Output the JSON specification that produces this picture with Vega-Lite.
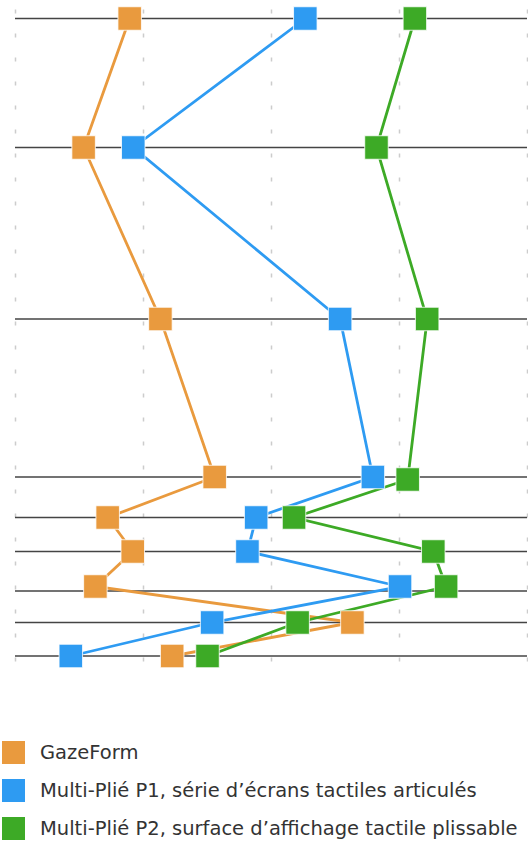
{
  "$schema": "https://vega.github.io/schema/vega-lite/v6.json",
  "autosize": "none",
  "width": 512,
  "height": 658,
  "padding": {"left": 15, "top": 3, "right": 1, "bottom": 180},
  "background": "white",
  "config": {
    "view": {"stroke": null},
    "font": "DejaVu Sans",
    "legend": {
      "labelFont": "DejaVu Sans",
      "labelFontSize": 19.5,
      "labelColor": "#333333",
      "labelLimit": 600,
      "symbolType": "square",
      "symbolSize": 529,
      "symbolStrokeWidth": 0,
      "symbolOpacity": 1,
      "rowPadding": 15,
      "labelOffset": 15
    }
  },
  "datasets": {
    "levels": [
      {"pos": 15.5}, {"pos": 144.5}, {"pos": 316}, {"pos": 474}, {"pos": 514.5},
      {"pos": 548.5}, {"pos": 588}, {"pos": 619.5}, {"pos": 653}
    ],
    "points": [
      {"series": "GazeForm", "row": 1, "x": 22.4, "pos": 15.5},
      {"series": "GazeForm", "row": 2, "x": 13.4, "pos": 144.5},
      {"series": "GazeForm", "row": 3, "x": 28.4, "pos": 316},
      {"series": "GazeForm", "row": 4, "x": 39.0, "pos": 474},
      {"series": "GazeForm", "row": 5, "x": 18.1, "pos": 514.5},
      {"series": "GazeForm", "row": 6, "x": 23.0, "pos": 548.5},
      {"series": "GazeForm", "row": 7, "x": 15.7, "pos": 583.5},
      {"series": "GazeForm", "row": 8, "x": 65.9, "pos": 619.5},
      {"series": "GazeForm", "row": 9, "x": 30.7, "pos": 653},
      {"series": "Multi-Plié P1, série d’écrans tactiles articulés", "row": 1, "x": 56.7, "pos": 15.5},
      {"series": "Multi-Plié P1, série d’écrans tactiles articulés", "row": 2, "x": 23.1, "pos": 144.5},
      {"series": "Multi-Plié P1, série d’écrans tactiles articulés", "row": 3, "x": 63.5, "pos": 316},
      {"series": "Multi-Plié P1, série d’écrans tactiles articulés", "row": 4, "x": 69.9, "pos": 474},
      {"series": "Multi-Plié P1, série d’écrans tactiles articulés", "row": 5, "x": 47.1, "pos": 514.5},
      {"series": "Multi-Plié P1, série d’écrans tactiles articulés", "row": 6, "x": 45.4, "pos": 548.5},
      {"series": "Multi-Plié P1, série d’écrans tactiles articulés", "row": 7, "x": 75.2, "pos": 583.5},
      {"series": "Multi-Plié P1, série d’écrans tactiles articulés", "row": 8, "x": 38.5, "pos": 619.5},
      {"series": "Multi-Plié P1, série d’écrans tactiles articulés", "row": 9, "x": 10.9, "pos": 653},
      {"series": "Multi-Plié P2, surface d’affichage tactile plissable", "row": 1, "x": 78.1, "pos": 15.5},
      {"series": "Multi-Plié P2, surface d’affichage tactile plissable", "row": 2, "x": 70.6, "pos": 144.5},
      {"series": "Multi-Plié P2, surface d’affichage tactile plissable", "row": 3, "x": 80.5, "pos": 316},
      {"series": "Multi-Plié P2, surface d’affichage tactile plissable", "row": 4, "x": 76.7, "pos": 476.5},
      {"series": "Multi-Plié P2, surface d’affichage tactile plissable", "row": 5, "x": 54.5, "pos": 514.5},
      {"series": "Multi-Plié P2, surface d’affichage tactile plissable", "row": 6, "x": 81.7, "pos": 548.5},
      {"series": "Multi-Plié P2, surface d’affichage tactile plissable", "row": 7, "x": 84.2, "pos": 583.5},
      {"series": "Multi-Plié P2, surface d’affichage tactile plissable", "row": 8, "x": 55.2, "pos": 619.5},
      {"series": "Multi-Plié P2, surface d’affichage tactile plissable", "row": 9, "x": 37.6, "pos": 653}
    ]
  },
  "resolve": {"legend": {"color": "independent"}},
  "layer": [
    {
      "data": {"name": "levels"},
      "mark": {"type": "rule", "color": "#444444", "strokeWidth": 1.3},
      "encoding": {
        "y": {"field": "pos", "type": "quantitative", "scale": {"domain": [0, 658], "reverse": true}, "axis": null}
      }
    },
    {
      "data": {"name": "points"},
      "mark": {"type": "line", "strokeWidth": 2.8},
      "encoding": {
        "x": {"field": "x", "type": "quantitative", "scale": {"domain": [0, 100]},
          "axis": {"values": [0, 25, 50, 75, 100], "grid": true, "gridDash": [4, 20], "gridColor": "#cccccc", "gridWidth": 1.5, "labels": false, "ticks": false, "domain": false, "title": null}},
        "y": {"field": "pos", "type": "quantitative", "scale": {"domain": [0, 658], "reverse": true}, "axis": null},
        "order": {"field": "row", "type": "quantitative"},
        "color": {"field": "series", "type": "nominal", "legend": null,
          "scale": {"domain": ["GazeForm", "Multi-Plié P1, série d’écrans tactiles articulés", "Multi-Plié P2, surface d’affichage tactile plissable"], "range": ["#E99A3E", "#2E9BF2", "#3DAA26"]}}
      }
    },
    {
      "data": {"name": "points"},
      "mark": {"type": "point", "shape": "square", "filled": true, "size": 552, "opacity": 1, "stroke": "white", "strokeWidth": 0.8},
      "encoding": {
        "x": {"field": "x", "type": "quantitative", "scale": {"domain": [0, 100]}},
        "y": {"field": "pos", "type": "quantitative", "scale": {"domain": [0, 658], "reverse": true}},
        "color": {"field": "series", "type": "nominal", "title": null,
          "scale": {"domain": ["GazeForm", "Multi-Plié P1, série d’écrans tactiles articulés", "Multi-Plié P2, surface d’affichage tactile plissable"], "range": ["#E99A3E", "#2E9BF2", "#3DAA26"]},
          "legend": {"orient": "none", "legendX": -13, "legendY": 738, "direction": "vertical", "symbolType": "square"}}
      }
    }
  ]
}
